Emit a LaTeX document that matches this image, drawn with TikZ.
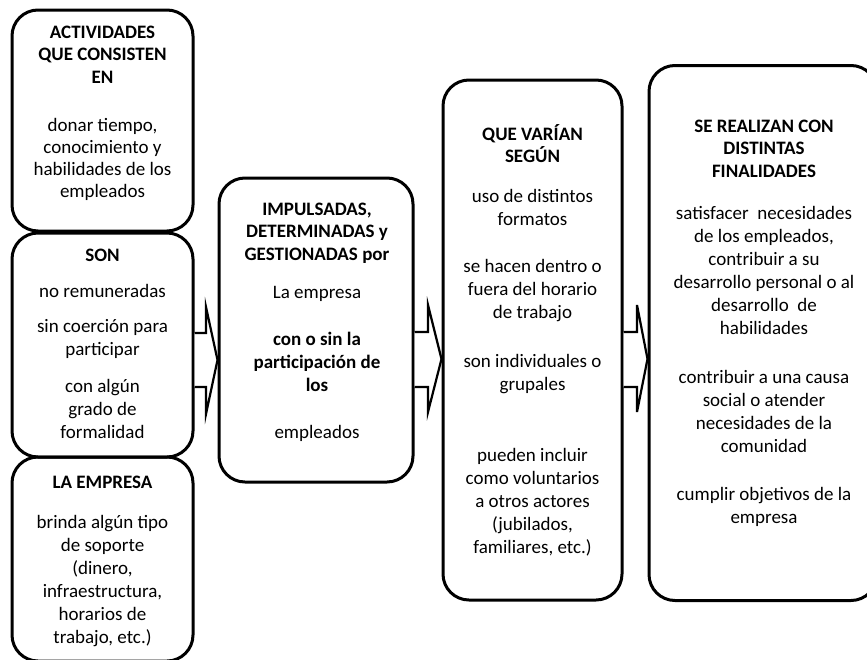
\documentclass[tikz,border=0pt]{standalone}
\usepackage{fontspec}
\setmainfont{Carlito}
\begin{document}
\begin{tikzpicture}[x=1pt,y=-1pt,
  box/.style={draw, line width=3pt, rounded corners=26pt, inner sep=0pt},
  blk/.style={align=center, anchor=base, inner sep=0pt, font=\fontsize{19}{23}\selectfont},
  hd/.style={blk, font=\fontsize{19}{22.5}\selectfont\bfseries},
  barrow/.style={draw, fill=white, line width=2.2pt, line join=miter}
]
\useasboundingbox (0,0) rectangle (867,659);
% boxes
\node[box, minimum width=181pt, minimum height=221pt] (b1) at (102.5,120.5) {};
\node[box, minimum width=181pt, minimum height=224pt] (b2) at (102.5,345) {};
\node[box, minimum width=181pt, minimum height=204pt] (b3) at (102.5,559) {};
\node[box, minimum width=194pt, minimum height=304pt] (b4) at (316,330) {};
\node[box, minimum width=179pt, minimum height=520pt] (b5) at (532.5,340) {};
\node[box, minimum width=228pt, minimum height=535pt] (b6) at (763,333) {};
% arrows
\draw[barrow] (b2.east |- 0,333) -- (206,333) -- (206,307) -- (b4.west |- 0,360) -- (206,414) -- (206,387) -- (b2.east |- 0,387);
\draw[barrow] (b4.east |- 0,332) -- (428,332) -- (428,305) -- (b5.west |- 0,359) -- (428,412) -- (428,387) -- (b4.east |- 0,387);
\draw[barrow] (b5.east |- 0,332) -- (637,332) -- (637,305) -- (b6.west |- 0,359) -- (637,412) -- (637,387) -- (b5.east |- 0,387);
% text nodes: positions give the baseline of the LAST line
% box 1
\node[hd] (t1h) at (102.5,83) {ACTIVIDADES\\QUE CONSISTEN\\EN};
\node[blk, font=\fontsize{19}{22}\selectfont] (t1a) at (102.5,197) {donar tiempo,\\conocimiento y\\habilidades de los\\empleados};
% box 2
\node[hd] (t2h) at (102.5,261) {SON};
\node[blk] (t2a) at (102.5,297) {no remuneradas};
\node[blk] (t2b) at (102.5,355) {sin coerción para\\participar};
\node[blk] (t2c) at (102.5,438) {con algún\\grado de\\formalidad};
% box 3
\node[hd] (t3h) at (102.5,488) {LA EMPRESA};
\node[blk] (t3a) at (102.5,643) {brinda algún tipo\\de soporte\\(dinero,\\infraestructura,\\horarios de\\trabajo, etc.)};
% box 4
\node[hd] (t4h) at (317,260) {IMPULSADAS,\\DETERMINADAS y\\GESTIONADAS por};
\node[blk] (t4a) at (317,298) {La empresa};
\node[blk, font=\fontsize{19}{23}\selectfont\bfseries] (t4b) at (317,391) {con o sin la\\participación de\\los};
\node[blk] (t4c) at (317,438) {empleados};
% box 5
\node[hd] (t5h) at (532.5,162.5) {QUE VARÍAN\\SEGÚN};
\node[blk] (t5a) at (532.5,225) {uso de distintos\\formatos};
\node[blk] (t5b) at (532.5,318) {se hacen dentro o\\fuera del horario\\de trabajo};
\node[blk] (t5c) at (532.5,390) {son individuales o\\grupales};
\node[blk] (t5d) at (532.5,553) {pueden incluir\\como voluntarios\\a otros actores\\(jubilados,\\familiares, etc.)};
% box 6
\node[hd] (t6h) at (764,177) {SE REALIZAN CON\\DISTINTAS\\FINALIDADES};
\node[blk] (t6a) at (764,334) {satisfacer\ \ necesidades\\de los empleados,\\contribuir a su\\desarrollo personal o al\\desarrollo\ \ de\\habilidades};
\node[blk] (t6b) at (764,452) {contribuir a una causa\\social o atender\\necesidades de la\\comunidad};
\node[blk] (t6c) at (764,523) {cumplir objetivos de la\\empresa};
\end{tikzpicture}
\end{document}
